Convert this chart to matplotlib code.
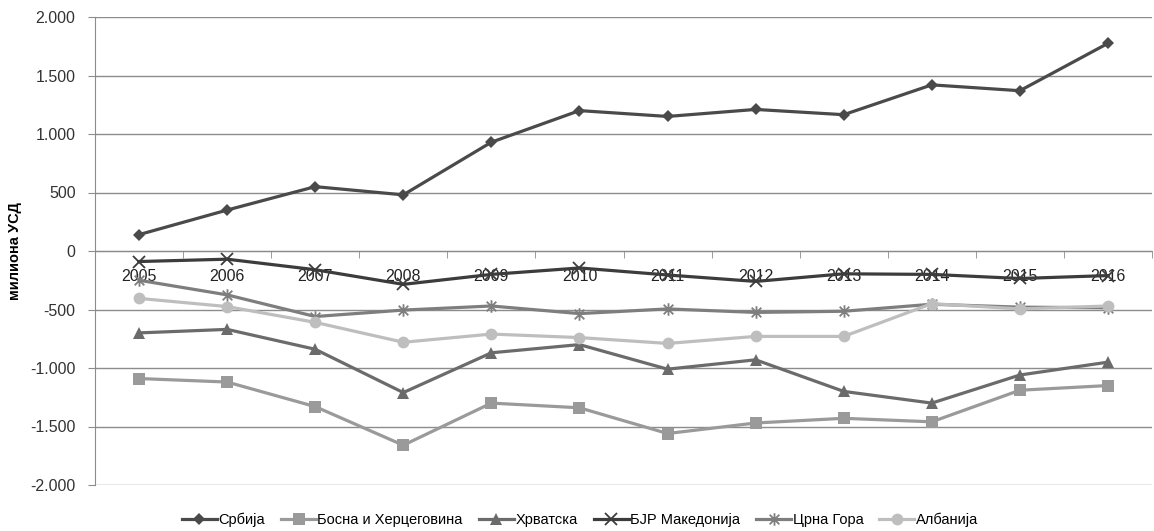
import numpy as np
import matplotlib.pyplot as plt
from matplotlib.path import Path
from matplotlib.ticker import FuncFormatter, FixedLocator

plt.rcParams['font.family'] = ['Liberation Sans', 'DejaVu Sans']

# %% Data (милиона УСД)
years = ['2005', '2006', '2007', '2008', '2009', '2010',
         '2011', '2012', '2013', '2014', '2015', '2016']

srbija = [140, 350, 550, 480, 930, 1200, 1150, 1210, 1165, 1420, 1370, 1775]
bih = [-1090, -1120, -1330, -1660, -1300, -1340, -1560, -1470, -1430, -1460, -1190, -1150]
hrvatska = [-700, -670, -840, -1210, -870, -800, -1010, -930, -1200, -1300, -1060, -950]
makedonija = [-90, -70, -160, -285, -200, -145, -205, -260, -195, -200, -235, -210]
crna_gora = [-250, -375, -560, -505, -470, -535, -495, -525, -515, -455, -480, -485]
albanija = [-405, -475, -610, -780, -710, -740, -790, -730, -730, -450, -495, -470]

# Excel-style asterisk: x plus a vertical bar
star = Path([(-1, -1), (1, 1), (-1, 1), (1, -1), (0, -1.3), (0, 1.3)],
            [Path.MOVETO, Path.LINETO, Path.MOVETO, Path.LINETO,
             Path.MOVETO, Path.LINETO])

series = [
    ('Србија', srbija, '#4a4a4a', 'D', 6.5),
    ('Босна и Херцеговина', bih, '#9a9a9a', 's', 8),
    ('Хрватска', hrvatska, '#6b6b6b', '^', 8.5),
    ('БЈР Македонија', makedonija, '#3c3c3c', 'x', 9),
    ('Црна Гора', crna_gora, '#7e7e7e', star, 9),
    ('Албанија', albanija, '#bebebe', 'o', 8.5),
]

# %% Plot
fig = plt.figure(figsize=(11.54, 5.31), dpi=100)
ax = fig.add_axes([95 / 1154, 46 / 531, 1057 / 1154, 468 / 531])

x = np.arange(len(years))
for name, vals, color, marker, ms in series:
    open_marker = marker == 'x' or marker is star
    ax.plot(x, vals, color=color, linewidth=2.3, marker=marker,
            markersize=ms, markeredgewidth=1.3 if open_marker else 0,
            markerfacecolor=color, markeredgecolor=color, label=name,
            zorder=3)

ax.set_xlim(-0.5, len(years) - 0.5)
ax.set_ylim(-2000, 2000)
ax.set_yticks(np.arange(-2000, 2001, 500))
ax.yaxis.set_major_formatter(
    FuncFormatter(lambda v, p: f'{int(v):,}'.replace(',', '.')))
ax.grid(axis='y', color='#8c8c8c', linewidth=1)
ax.set_axisbelow(True)

# category axis crossing at zero
ax.spines['bottom'].set_position(('data', 0))
ax.spines['bottom'].set_color('#8c8c8c')
ax.spines['left'].set_color('#8c8c8c')
ax.spines['top'].set_visible(False)
ax.spines['right'].set_visible(False)

ax.set_xticks(x)
ax.set_xticklabels(years)
ax.xaxis.set_minor_locator(FixedLocator(np.arange(-0.5, len(years), 1.0)))
ax.tick_params(axis='x', which='major', length=0, pad=13, labelsize=11.5,
               labelcolor='#222222')
ax.tick_params(axis='x', which='minor', length=5, direction='out',
               color='#8c8c8c')
ax.tick_params(axis='y', length=5, color='#8c8c8c', pad=9, labelsize=11.5,
               labelcolor='#333333')

ax.set_ylabel('милиона УСД', fontsize=10.5, fontweight='bold')
ax.yaxis.set_label_coords(-73 / 1057, 0.5)

fig.legend(loc='center', bbox_to_anchor=(580 / 1154, 1 - 520 / 531),
           ncol=6, frameon=False, fontsize=10.5, handlelength=2.4,
           handletextpad=0.1, columnspacing=1.1)

plt.savefig('out.png', dpi=100)
